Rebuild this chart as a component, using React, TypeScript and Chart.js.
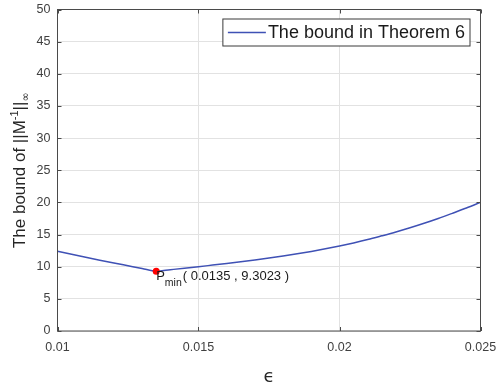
import React, { useEffect, useRef } from "react";
import { Chart, registerables } from "chart.js";

Chart.register(...registerables);

// ---- data ----
const epsValues = [
  0.01, 0.0105, 0.011, 0.0115, 0.012, 0.0125, 0.013, 0.0135, 0.014, 0.0145,
  0.015, 0.0155, 0.016, 0.0165, 0.017, 0.0175, 0.018, 0.0185, 0.019, 0.0195,
  0.02, 0.0205, 0.021, 0.0215, 0.022, 0.0225, 0.023, 0.0235, 0.024, 0.0245,
  0.025,
];
const boundValues = [
  12.4, 11.93, 11.47, 11.02, 10.58, 10.15, 9.72, 9.3023, 9.53, 9.76,
  10.0, 10.25, 10.5, 10.77, 11.05, 11.35, 11.67, 12.01, 12.38, 12.78,
  13.22, 13.7, 14.22, 14.8, 15.4, 16.05, 16.75, 17.5, 18.3, 19.12,
  20.0,
];
const pMinX = 0.0135;
const pMinY = 9.3023;
const pMinLabel = "( 0.0135 , 9.3023 )";
const xTickValues = [0.01, 0.015, 0.02, 0.025];
const xTickLabels = ["0.01", "0.015", "0.02", "0.025"];
const yTickValues = [0, 5, 10, 15, 20, 25, 30, 35, 40, 45, 50];
const yTickLabels = ["0", "5", "10", "15", "20", "25", "30", "35", "40", "45", "50"];
const legendLabel = "The bound in Theorem 6";
const xTitle = "\u03F5";
const yTitleMain = "The bound of ||M";
const yTitleSup = "-1";
const yTitleMid = "||";
const yTitleSub = "\u221E";

// ---- styles ----
const LINE_COLOR = "#3f51b5";
const AXIS_COLOR = "#4a4a4a";
const GRID_COLOR = "#e2e2e2";
const TEXT_COLOR = "#404040";
const FONT = "'Liberation Sans', Arial, sans-serif";

const zeroPad = (scale: any) => {
  scale.paddingLeft = 0;
  scale.paddingRight = 0;
  scale.paddingTop = 0;
  scale.paddingBottom = 0;
};

const decorPlugin = {
  id: "decor",
  afterDraw(chart: any) {
    const { ctx, chartArea } = chart;
    const { left, right, top, bottom } = chartArea;
    const xs = chart.scales.x;
    const ys = chart.scales.y;
    ctx.save();

    // inward ticks
    ctx.strokeStyle = AXIS_COLOR;
    ctx.lineWidth = 1;
    ctx.beginPath();
    xTickValues.forEach((v) => {
      const px = Math.round(xs.getPixelForValue(v)) + 0.5;
      ctx.moveTo(px, bottom);
      ctx.lineTo(px, bottom - 4);
      ctx.moveTo(px, top);
      ctx.lineTo(px, top + 4);
    });
    yTickValues.forEach((v) => {
      const py = Math.round(ys.getPixelForValue(v)) + 0.5;
      ctx.moveTo(left, py);
      ctx.lineTo(left + 4, py);
      ctx.moveTo(right, py);
      ctx.lineTo(right - 4, py);
    });
    ctx.stroke();

    // box
    ctx.strokeStyle = AXIS_COLOR;
    ctx.lineWidth = 1;
    ctx.strokeRect(left, top, right - left, bottom - top);

    // legend
    ctx.font = `18px ${FONT}`;
    const tw = ctx.measureText(legendLabel).width;
    const boxRight = right - 10.5;
    const boxTop = top + 9.5;
    const boxH = 27;
    const boxW = tw + 50;
    const boxLeft = boxRight - boxW;
    ctx.fillStyle = "#ffffff";
    ctx.fillRect(boxLeft, boxTop, boxW, boxH);
    ctx.strokeStyle = "#3a3a3a";
    ctx.strokeRect(boxLeft, boxTop, boxW, boxH);
    const ly = boxTop + boxH / 2;
    ctx.strokeStyle = LINE_COLOR;
    ctx.lineWidth = 1.5;
    ctx.beginPath();
    ctx.moveTo(boxLeft + 5, ly);
    ctx.lineTo(boxLeft + 43, ly);
    ctx.stroke();
    ctx.fillStyle = "#1a1a1a";
    ctx.textAlign = "left";
    ctx.textBaseline = "middle";
    ctx.fillText(legendLabel, boxLeft + 45, ly + 1);

    // annotation
    const px = xs.getPixelForValue(pMinX);
    const py = ys.getPixelForValue(pMinY);
    ctx.textBaseline = "alphabetic";
    ctx.fillStyle = "#1a1a1a";
    ctx.font = `13px ${FONT}`;
    let ax = px;
    ctx.fillText("P", ax, py + 9);
    ax += ctx.measureText("P").width;
    ctx.font = `10.5px ${FONT}`;
    ctx.fillText("min", ax, py + 15);
    ax += ctx.measureText("min").width + 1;
    ctx.font = `13px ${FONT}`;
    ctx.fillText(pMinLabel, ax, py + 9);

    // x title
    ctx.font = `18px 'DejaVu Sans', sans-serif`;
    ctx.textAlign = "center";
    ctx.fillStyle = "#262626";
    ctx.fillText(xTitle, (left + right) / 2, 382);

    // y title
    const parts = [
      { t: yTitleMain, f: `17px ${FONT}`, dy: 0 },
      { t: yTitleSup, f: `11px ${FONT}`, dy: -7 },
      { t: yTitleMid, f: `17px ${FONT}`, dy: 0 },
      { t: yTitleSub, f: `11px 'DejaVu Sans', sans-serif`, dy: 4 },
    ];
    let total = 0;
    const widths = parts.map((p) => {
      ctx.font = p.f;
      const w = ctx.measureText(p.t).width;
      total += w;
      return w;
    });
    ctx.translate(25, (top + bottom) / 2);
    ctx.rotate(-Math.PI / 2);
    ctx.textAlign = "left";
    let cx = -total / 2;
    parts.forEach((p, i) => {
      ctx.font = p.f;
      ctx.fillText(p.t, cx, p.dy);
      cx += widths[i];
    });

    ctx.restore();
  },
};

export default function App() {
  const ref = useRef<HTMLCanvasElement>(null);
  useEffect(() => {
    document.body.style.margin = "0";
    const canvas = ref.current;
    if (!canvas) return;
    const lineData = epsValues.map((x, i) => ({ x, y: boundValues[i] }));
    const chart = new Chart(canvas, {
      type: "line",
      data: {
        datasets: [
          {
            label: "Pmin",
            data: [{ x: pMinX, y: pMinY }],
            showLine: false,
            pointRadius: 3.5,
            pointBackgroundColor: "#ff0000",
            pointBorderColor: "#ff0000",
            pointBorderWidth: 0,
          },
          {
            label: legendLabel,
            data: lineData,
            borderColor: LINE_COLOR,
            borderWidth: 1.5,
            pointRadius: 0,
            cubicInterpolationMode: "monotone",
            fill: false,
          },
        ],
      },
      options: {
        animation: false,
        responsive: false,
        devicePixelRatio: 1,
        layout: { padding: { left: 0, right: 17.5, top: 9.5, bottom: 0 } },
        plugins: {
          legend: { display: false },
          tooltip: { enabled: false },
        },
        scales: {
          x: {
            type: "linear",
            min: 0.01,
            max: 0.025,
            afterBuildTicks: (scale: any) => {
              scale.ticks = xTickValues.map((v) => ({ value: v }));
            },
            afterFit: (scale: any) => {
              scale.height = 57;
              zeroPad(scale);
            },
            ticks: {
              autoSkip: false,
              maxRotation: 0,
              padding: 9,
              color: TEXT_COLOR,
              font: { family: FONT, size: 12.5 },
              callback: (v: any) => {
                const i = xTickValues.findIndex((t) => Math.abs(t - v) < 1e-9);
                return i >= 0 ? xTickLabels[i] : "";
              },
            },
            grid: { color: GRID_COLOR, drawTicks: false, lineWidth: 1 },
            border: { display: false },
          },
          y: {
            type: "linear",
            min: 0,
            max: 50,
            afterBuildTicks: (scale: any) => {
              scale.ticks = yTickValues.map((v) => ({ value: v }));
            },
            afterFit: (scale: any) => {
              scale.width = 57.5;
              zeroPad(scale);
            },
            ticks: {
              autoSkip: false,
              padding: 7,
              color: TEXT_COLOR,
              font: { family: FONT, size: 12.5 },
              callback: (v: any) => {
                const i = yTickValues.indexOf(v);
                return i >= 0 ? yTickLabels[i] : "";
              },
            },
            grid: { color: GRID_COLOR, drawTicks: false, lineWidth: 1 },
            border: { display: false },
          },
        },
      },
      plugins: [decorPlugin],
    } as any);
    return () => chart.destroy();
  }, []);
  return (
    <div style={{ width: 498, height: 388 }}>
      <canvas ref={ref} width={498} height={388} style={{ width: 498, height: 388 }} />
    </div>
  );
}
